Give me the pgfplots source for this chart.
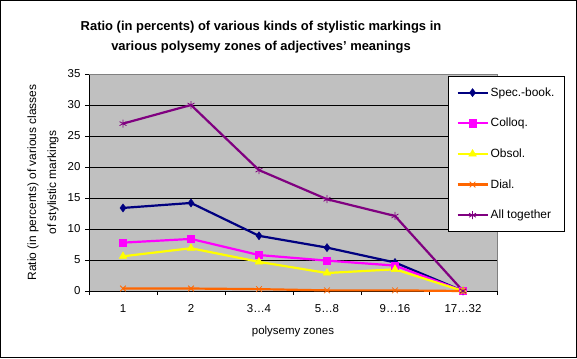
\documentclass[border=0pt]{standalone}
\usepackage{pgfplots}
\pgfplotsset{compat=1.18}
\usepackage{fontspec}
\setmainfont{Liberation Sans}
\definecolor{plotgray}{RGB}{192,192,192}
\definecolor{cSpec}{RGB}{0,0,128}
\definecolor{cColl}{RGB}{255,0,255}
\definecolor{cObs}{RGB}{255,255,0}
\definecolor{cDial}{RGB}{255,102,0}
\definecolor{cAll}{RGB}{128,0,128}
\begin{document}
\begin{tikzpicture}[x=1bp,y=1bp]
\draw[black, line width=1bp] (0.5,0.5) rectangle (576.5,357.5);
\begin{axis}[
  at={(89bp,67bp)}, anchor=south west,
  scale only axis, width=408bp, height=217bp,
  xmin=-0.5, xmax=5.5, ymin=0, ymax=35,
  ytick={0,5,...,35},
  xtick={0,...,5},
  xticklabels={1,2,3…4,5…8,9…16,17…32},
  minor xtick={-0.5,0.5,1.5,2.5,3.5,4.5,5.5},
  x tick style={draw=none},
  minor x tick style={draw=black, line width=0.8bp},
  y tick style={black, line width=0.8bp},
  major tick length=4bp, minor tick length=4bp,
  tick align=outside,
  axis x line*=bottom, axis y line*=left,
  axis line style={black, line width=0.8bp, -},
  ymajorgrids, grid style={black, line width=0.8bp},
  axis background/.style={fill=plotgray},
  /pgf/number format/assume math mode=true,
  tick label style={font=\fontsize{11.5}{13}\selectfont},
  xticklabel style={yshift=-6bp},
  yticklabel style={xshift=-1bp},
  title={Ratio (in percents) of various kinds of stylistic markings in\\[5bp]various polysemy zones of adjectives' meanings},
  title style={font=\bfseries\fontsize{13}{15}\selectfont, align=center, at={(axis description cs:0.4216,1.142)}, anchor=center},
  xlabel={polysemy zones},
  xlabel style={font=\fontsize{11.5}{13}\selectfont, at={(axis description cs:0.5,-0.189)}, anchor=center},
  ylabel={Ratio (in percents) of various classes\\[6bp]of stylistic markings},
  ylabel style={font=\fontsize{12}{14}\selectfont, align=center, at={(axis description cs:-0.1127,0.5)}, anchor=center},
  legend style={at={(axis description cs:0.88,0.99)}, anchor=north west, draw=black, line width=0.8bp,
    fill=white, font=\fontsize{12}{14}\selectfont, row sep=16.5bp, inner ysep=9bp, inner xsep=8bp,
    legend cell align=left},
  legend image code/.code={\draw[mark repeat=2,mark phase=2,#1] plot coordinates {(0bp,0bp)(15bp,0bp)(30bp,0bp)};},
  every axis plot/.append style={line width=2.2bp, mark size=4bp},
  clip=false,
]
\addplot[cSpec, mark=diamond*, mark options={solid, fill=cSpec, line width=0.5bp}] coordinates {(0,13.4)(1,14.2)(2,8.9)(3,7.0)(4,4.6)(5,0)};
\addlegendentry{Spec.-book.}
\addplot[cColl, mark=square*, mark options={solid, fill=cColl, line width=0.5bp, scale=0.9}] coordinates {(0,7.8)(1,8.4)(2,5.8)(3,4.9)(4,4.1)(5,0)};
\addlegendentry{Colloq.}
\addplot[cObs, mark=triangle*, mark options={solid, fill=cObs, line width=0.5bp, scale=1.1}] coordinates {(0,5.6)(1,6.9)(2,4.7)(3,2.9)(4,3.5)(5,0)};
\addlegendentry{Obsol.}
\addplot[cDial, mark=x, mark options={solid, line width=0.8bp}] coordinates {(0,0.4)(1,0.4)(2,0.3)(3,0.1)(4,0.1)(5,0)};
\addlegendentry{Dial.}
\addplot[cAll, mark=asterisk, mark options={solid, line width=0.8bp}] coordinates {(0,27.0)(1,30.0)(2,19.5)(3,14.8)(4,12.1)(5,0)};
\addlegendentry{All together}
\draw[gray, line width=0.8bp] (rel axis cs:0,1) -- (rel axis cs:1,1) -- (rel axis cs:1,0);
\end{axis}
\end{tikzpicture}
\end{document}
